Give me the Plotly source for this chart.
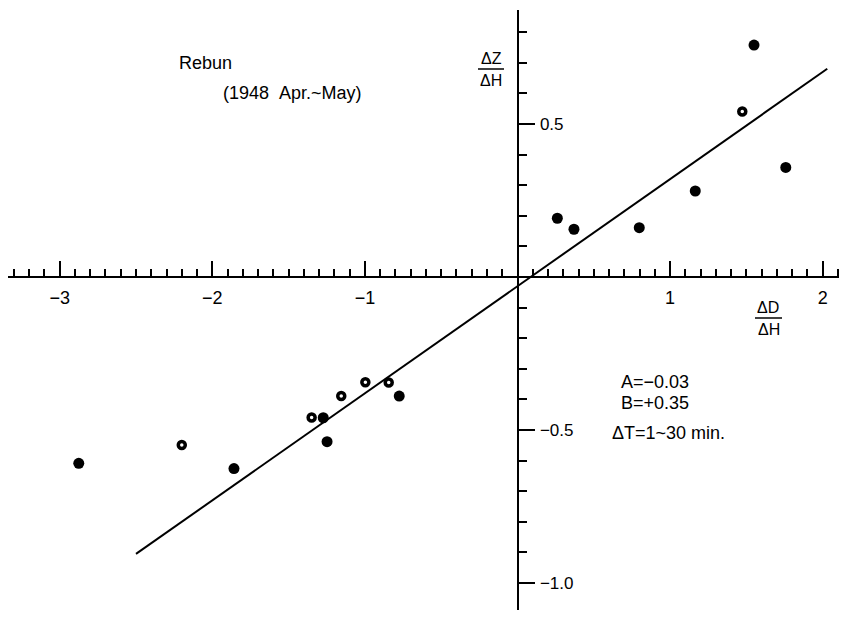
import plotly.graph_objects as go

# ---- data ----
filled_x = [-2.875, -1.858, -1.273, -1.248, -0.775, 0.261, 0.370, 0.798, 1.165, 1.550, 1.758]
filled_y = [-0.609, -0.626, -0.460, -0.538, -0.389, 0.192, 0.156, 0.161, 0.281, 0.758, 0.358]
open_x = [-2.200, -1.349, -1.155, -0.997, -0.844, 1.473]
open_y = [-0.549, -0.459, -0.389, -0.344, -0.345, 0.541]
coef_A = -0.03
coef_B = 0.35
line_x_range = [-2.5, 2.03]
x_tick_vals = [-3, -2, -1, 1, 2]
x_tick_text = ["\u22123", "\u22122", "\u22121", "1", "2"]
y_tick_vals = [0.5, -0.5, -1.0]
y_tick_text = ["0.5", "\u22120.5", "\u22121.0"]

# the page body has an 8px margin; the figure is shifted to compensate
OFF = 8
W, H = 847 - OFF, 620 - OFF
FONT = "Liberation Sans"

# pixel geometry of the plotted frame (in page pixels)
X0_PX, XSCALE = 517.5, 152.6
Y0_PX, YSCALE = 277.0, 306.0
def px2x(p): return (p - X0_PX) / XSCALE
def py2y(p): return (Y0_PX - p) / YSCALE
def fx(p): return (p - OFF) / W
def fy(p): return 1 - (p - OFF) / H

line_x = line_x_range
line_y = [coef_A + coef_B * v for v in line_x]

fig = go.Figure()
fig.add_trace(go.Scatter(x=line_x, y=line_y, mode="lines",
                         line=dict(color="black", width=2), hoverinfo="skip"))
fig.add_trace(go.Scatter(x=filled_x, y=filled_y, mode="markers",
                         marker=dict(symbol="circle", size=11, color="black")))
fig.add_trace(go.Scatter(x=open_x, y=open_y, mode="markers",
                         marker=dict(symbol="circle", size=7, color="white",
                                     line=dict(color="black", width=3.5))))

x_left_px, x_right_px = 8, 845
y_top_px, y_bot_px = 10, 610

fig.update_layout(
    width=W, height=H, margin=dict(l=0, r=0, t=0, b=0),
    paper_bgcolor="white", plot_bgcolor="white", showlegend=False,
    font=dict(family=FONT, size=18, color="black"),
    xaxis=dict(
        domain=[fx(x_left_px), fx(x_right_px)],
        range=[px2x(x_left_px), px2x(x_right_px)],
        anchor="free", position=fy(Y0_PX),
        showgrid=False, zeroline=False,
        showline=True, linecolor="black", linewidth=2,
        tickmode="array", tickvals=x_tick_vals, ticktext=x_tick_text,
        ticks="inside", ticklen=15, tickwidth=1.5, tickcolor="black",
        ticklabelstandoff=4,
        tickfont=dict(family=FONT, size=18, color="black"),
        minor=dict(tickmode="linear", tick0=0, dtick=0.1, ticks="inside",
                   ticklen=7, tickwidth=1.5, tickcolor="black", showgrid=False),
    ),
    yaxis=dict(
        domain=[fy(y_bot_px), fy(y_top_px)],
        range=[py2y(y_bot_px), py2y(y_top_px)],
        anchor="free", position=fx(X0_PX), side="right",
        showgrid=False, zeroline=False,
        showline=True, linecolor="black", linewidth=2,
        tickmode="array", tickvals=y_tick_vals, ticktext=y_tick_text,
        ticks="outside", ticklen=16, tickwidth=1.5, tickcolor="black",
        ticklabelstandoff=2,
        tickfont=dict(family=FONT, size=17, color="black"),
        minor=dict(tickmode="linear", tick0=0, dtick=0.1, ticks="outside",
                   ticklen=8, tickwidth=1.5, tickcolor="black", showgrid=False),
    ),
)

def txt(s, px, py, size=18, xanchor="left"):
    fig.add_annotation(text=s, x=fx(px), y=fy(py), xref="paper", yref="paper",
                       xanchor=xanchor, yanchor="middle", showarrow=False,
                       font=dict(family=FONT, size=size, color="black"))

txt("Rebun", 177, 63)
txt("(1948\u00a0\u00a0Apr.~May)", 221, 93)
txt("A=\u22120.03", 619, 382)
txt("B=+0.35", 619, 403)
txt("\u0394T=1~30 min.", 610, 433)

# fraction labels for the axes
txt("\u0394Z", 491, 58, size=16, xanchor="center")
txt("\u0394H", 491, 80, size=16, xanchor="center")
fig.add_shape(type="line", xref="paper", yref="paper",
              x0=fx(478), x1=fx(504), y0=fy(69), y1=fy(69),
              line=dict(color="black", width=1.5))
txt("\u0394D", 768, 307, size=16, xanchor="center")
txt("\u0394H", 769, 329, size=16, xanchor="center")
fig.add_shape(type="line", xref="paper", yref="paper",
              x0=fx(755), x1=fx(782), y0=fy(318), y1=fy(318),
              line=dict(color="black", width=1.5))

fig.write_html("out.html")
